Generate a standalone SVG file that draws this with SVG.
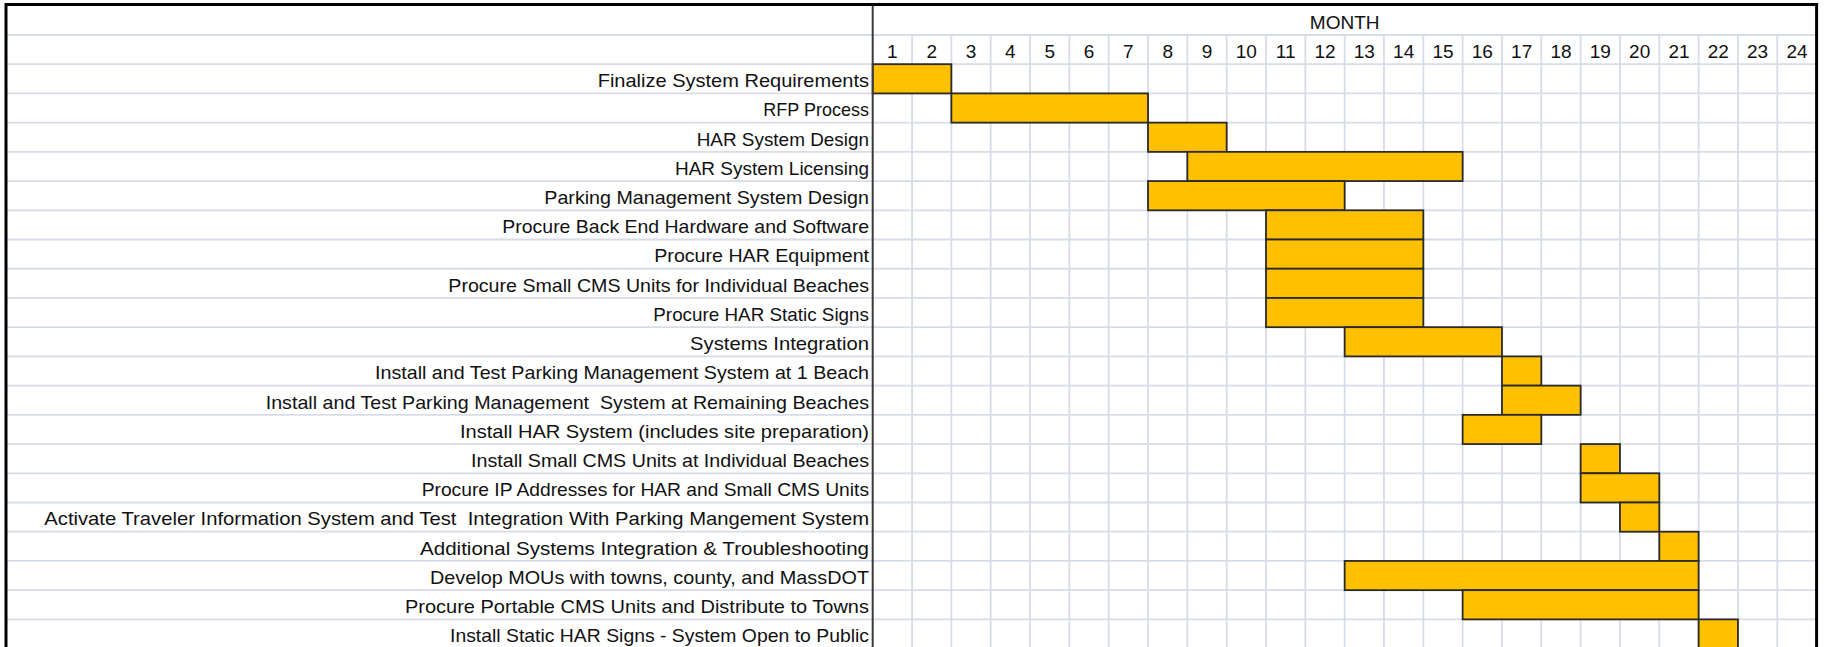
<svg xmlns="http://www.w3.org/2000/svg" width="1826" height="647" viewBox="0 0 1826 647">
<style>
.grid line{stroke:#d6dce8;stroke-width:1.8}
.bar{fill:#ffc000;stroke:#2a2a2a;stroke-width:1.8}
.lbl{font-family:"Liberation Sans",Arial,sans-serif;font-size:19px;fill:#111;text-anchor:end}
.num{font-family:"Liberation Sans",Arial,sans-serif;font-size:19px;fill:#111;text-anchor:middle}
</style>
<rect x="0" y="0" width="1826" height="647" fill="#fff"/>
<g id="gridlines" class="grid">
<line x1="6" y1="34.98" x2="1816.6" y2="34.98"/>
<line x1="6" y1="64.2" x2="1816.6" y2="64.2"/>
<line x1="6" y1="93.42" x2="1816.6" y2="93.42"/>
<line x1="6" y1="122.64" x2="1816.6" y2="122.64"/>
<line x1="6" y1="151.86" x2="1816.6" y2="151.86"/>
<line x1="6" y1="181.08" x2="1816.6" y2="181.08"/>
<line x1="6" y1="210.3" x2="1816.6" y2="210.3"/>
<line x1="6" y1="239.52" x2="1816.6" y2="239.52"/>
<line x1="6" y1="268.74" x2="1816.6" y2="268.74"/>
<line x1="6" y1="297.96" x2="1816.6" y2="297.96"/>
<line x1="6" y1="327.18" x2="1816.6" y2="327.18"/>
<line x1="6" y1="356.4" x2="1816.6" y2="356.4"/>
<line x1="6" y1="385.62" x2="1816.6" y2="385.62"/>
<line x1="6" y1="414.84" x2="1816.6" y2="414.84"/>
<line x1="6" y1="444.06" x2="1816.6" y2="444.06"/>
<line x1="6" y1="473.28" x2="1816.6" y2="473.28"/>
<line x1="6" y1="502.5" x2="1816.6" y2="502.5"/>
<line x1="6" y1="531.72" x2="1816.6" y2="531.72"/>
<line x1="6" y1="560.94" x2="1816.6" y2="560.94"/>
<line x1="6" y1="590.16" x2="1816.6" y2="590.16"/>
<line x1="6" y1="619.38" x2="1816.6" y2="619.38"/>
<line x1="912.03" y1="34.98" x2="912.03" y2="647"/>
<line x1="951.36" y1="34.98" x2="951.36" y2="647"/>
<line x1="990.69" y1="34.98" x2="990.69" y2="647"/>
<line x1="1030.02" y1="34.98" x2="1030.02" y2="647"/>
<line x1="1069.35" y1="34.98" x2="1069.35" y2="647"/>
<line x1="1108.68" y1="34.98" x2="1108.68" y2="647"/>
<line x1="1148.01" y1="34.98" x2="1148.01" y2="647"/>
<line x1="1187.34" y1="34.98" x2="1187.34" y2="647"/>
<line x1="1226.67" y1="34.98" x2="1226.67" y2="647"/>
<line x1="1266" y1="34.98" x2="1266" y2="647"/>
<line x1="1305.33" y1="34.98" x2="1305.33" y2="647"/>
<line x1="1344.66" y1="34.98" x2="1344.66" y2="647"/>
<line x1="1383.99" y1="34.98" x2="1383.99" y2="647"/>
<line x1="1423.32" y1="34.98" x2="1423.32" y2="647"/>
<line x1="1462.65" y1="34.98" x2="1462.65" y2="647"/>
<line x1="1501.98" y1="34.98" x2="1501.98" y2="647"/>
<line x1="1541.31" y1="34.98" x2="1541.31" y2="647"/>
<line x1="1580.64" y1="34.98" x2="1580.64" y2="647"/>
<line x1="1619.97" y1="34.98" x2="1619.97" y2="647"/>
<line x1="1659.3" y1="34.98" x2="1659.3" y2="647"/>
<line x1="1698.63" y1="34.98" x2="1698.63" y2="647"/>
<line x1="1737.96" y1="34.98" x2="1737.96" y2="647"/>
<line x1="1777.29" y1="34.98" x2="1777.29" y2="647"/>
</g>
<g id="header">
<text class="num" x="1344.66" y="28.7">MONTH</text>
<text class="num" x="892.37" y="57.9">1</text>
<text class="num" x="931.7" y="57.9">2</text>
<text class="num" x="971.03" y="57.9">3</text>
<text class="num" x="1010.36" y="57.9">4</text>
<text class="num" x="1049.69" y="57.9">5</text>
<text class="num" x="1089.02" y="57.9">6</text>
<text class="num" x="1128.35" y="57.9">7</text>
<text class="num" x="1167.68" y="57.9">8</text>
<text class="num" x="1207.01" y="57.9">9</text>
<text class="num" x="1246.34" y="57.9">10</text>
<text class="num" x="1285.67" y="57.9">11</text>
<text class="num" x="1325" y="57.9">12</text>
<text class="num" x="1364.33" y="57.9">13</text>
<text class="num" x="1403.66" y="57.9">14</text>
<text class="num" x="1442.99" y="57.9">15</text>
<text class="num" x="1482.32" y="57.9">16</text>
<text class="num" x="1521.65" y="57.9">17</text>
<text class="num" x="1560.98" y="57.9">18</text>
<text class="num" x="1600.31" y="57.9">19</text>
<text class="num" x="1639.64" y="57.9">20</text>
<text class="num" x="1678.97" y="57.9">21</text>
<text class="num" x="1718.3" y="57.9">22</text>
<text class="num" x="1757.63" y="57.9">23</text>
<text class="num" x="1796.96" y="57.9">24</text>
</g>
<g id="task-01"><rect class="bar" x="872.7" y="64.2" width="78.66" height="29.22"/><text class="lbl" x="869" y="87.12" textLength="271.3" lengthAdjust="spacingAndGlyphs">Finalize System Requirements</text></g>
<g id="task-02"><rect class="bar" x="951.36" y="93.42" width="196.65" height="29.22"/><text class="lbl" x="869" y="116.34" textLength="105.7" lengthAdjust="spacingAndGlyphs">RFP Process</text></g>
<g id="task-03"><rect class="bar" x="1148.01" y="122.64" width="78.66" height="29.22"/><text class="lbl" x="869" y="145.56" textLength="172.3" lengthAdjust="spacingAndGlyphs">HAR System Design</text></g>
<g id="task-04"><rect class="bar" x="1187.34" y="151.86" width="275.31" height="29.22"/><text class="lbl" x="869" y="174.78" textLength="194" lengthAdjust="spacingAndGlyphs">HAR System Licensing</text></g>
<g id="task-05"><rect class="bar" x="1148.01" y="181.08" width="196.65" height="29.22"/><text class="lbl" x="869" y="204" textLength="324.7" lengthAdjust="spacingAndGlyphs">Parking Management System Design</text></g>
<g id="task-06"><rect class="bar" x="1266" y="210.3" width="157.32" height="29.22"/><text class="lbl" x="869" y="233.22" textLength="366.7" lengthAdjust="spacingAndGlyphs">Procure Back End Hardware and Software</text></g>
<g id="task-07"><rect class="bar" x="1266" y="239.52" width="157.32" height="29.22"/><text class="lbl" x="869" y="262.44" textLength="214.7" lengthAdjust="spacingAndGlyphs">Procure HAR Equipment</text></g>
<g id="task-08"><rect class="bar" x="1266" y="268.74" width="157.32" height="29.22"/><text class="lbl" x="869" y="291.66" textLength="420.7" lengthAdjust="spacingAndGlyphs">Procure Small CMS Units for Individual Beaches</text></g>
<g id="task-09"><rect class="bar" x="1266" y="297.96" width="157.32" height="29.22"/><text class="lbl" x="869" y="320.88" textLength="215.7" lengthAdjust="spacingAndGlyphs">Procure HAR Static Signs</text></g>
<g id="task-10"><rect class="bar" x="1344.66" y="327.18" width="157.32" height="29.22"/><text class="lbl" x="869" y="350.1" textLength="179" lengthAdjust="spacingAndGlyphs">Systems Integration</text></g>
<g id="task-11"><rect class="bar" x="1501.98" y="356.4" width="39.33" height="29.22"/><text class="lbl" x="869" y="379.32" textLength="494" lengthAdjust="spacingAndGlyphs">Install and Test Parking Management System at 1 Beach</text></g>
<g id="task-12"><rect class="bar" x="1501.98" y="385.62" width="78.66" height="29.22"/><text class="lbl" x="869" y="408.54" textLength="603.3" lengthAdjust="spacingAndGlyphs" xml:space="preserve">Install and Test Parking Management  System at Remaining Beaches</text></g>
<g id="task-13"><rect class="bar" x="1462.65" y="414.84" width="78.66" height="29.22"/><text class="lbl" x="869" y="437.76" textLength="409" lengthAdjust="spacingAndGlyphs">Install HAR System (includes site preparation)</text></g>
<g id="task-14"><rect class="bar" x="1580.64" y="444.06" width="39.33" height="29.22"/><text class="lbl" x="869" y="466.98" textLength="398" lengthAdjust="spacingAndGlyphs">Install Small CMS Units at Individual Beaches</text></g>
<g id="task-15"><rect class="bar" x="1580.64" y="473.28" width="78.66" height="29.22"/><text class="lbl" x="869" y="496.2" textLength="447.3" lengthAdjust="spacingAndGlyphs">Procure IP Addresses for HAR and Small CMS Units</text></g>
<g id="task-16"><rect class="bar" x="1619.97" y="502.5" width="39.33" height="29.22"/><text class="lbl" x="869" y="525.42" textLength="824.7" lengthAdjust="spacingAndGlyphs" xml:space="preserve">Activate Traveler Information System and Test  Integration With Parking Mangement System</text></g>
<g id="task-17"><rect class="bar" x="1659.3" y="531.72" width="39.33" height="29.22"/><text class="lbl" x="869" y="554.64" textLength="449" lengthAdjust="spacingAndGlyphs">Additional Systems Integration &amp; Troubleshooting</text></g>
<g id="task-18"><rect class="bar" x="1344.66" y="560.94" width="353.97" height="29.22"/><text class="lbl" x="869" y="583.86" textLength="439" lengthAdjust="spacingAndGlyphs">Develop MOUs with towns, county, and MassDOT</text></g>
<g id="task-19"><rect class="bar" x="1462.65" y="590.16" width="235.98" height="29.22"/><text class="lbl" x="869" y="613.08" textLength="464" lengthAdjust="spacingAndGlyphs">Procure Portable CMS Units and Distribute to Towns</text></g>
<g id="task-20"><rect class="bar" x="1698.63" y="619.38" width="39.33" height="29.22"/><text class="lbl" x="869" y="642.3" textLength="419" lengthAdjust="spacingAndGlyphs">Install Static HAR Signs - System Open to Public</text></g>
<g id="frame" fill="none">
<line x1="872.7" y1="4.5" x2="872.7" y2="647" stroke="#3a3a3a" stroke-width="2"/>
<path d="M6,647 V4.5 H1816.6 V647" stroke="#000" stroke-width="3"/>
</g>
</svg>
